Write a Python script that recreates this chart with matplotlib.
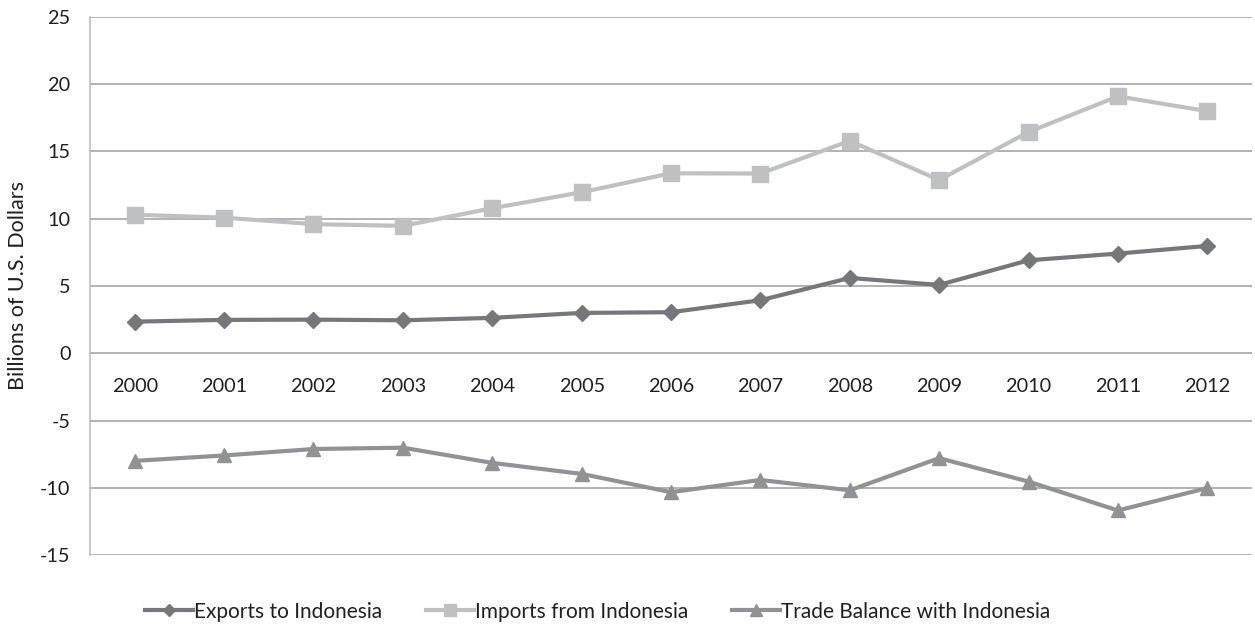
import matplotlib
matplotlib.use("Agg")
import matplotlib.pyplot as plt

years = ['2000', '2001', '2002', '2003', '2004', '2005', '2006',
         '2007', '2008', '2009', '2010', '2011', '2012']
exports = [2.35, 2.48, 2.5, 2.45, 2.63, 3.0, 3.05, 3.94, 5.6, 5.08, 6.91, 7.41, 7.98]
imports = [10.3, 10.08, 9.6, 9.47, 10.78, 11.97, 13.38, 13.36, 15.79, 12.88, 16.45, 19.1, 18.0]
balance = [-8.0, -7.6, -7.12, -7.02, -8.15, -8.97, -10.33, -9.42, -10.19, -7.8, -9.54, -11.69, -10.02]
y_ticks = [25, 20, 15, 10, 5, 0, -5, -10, -15]

plt.rcParams['font.family'] = ['Lato', 'DejaVu Sans']

fig = plt.figure(figsize=(12.55, 6.34), dpi=100)
ax = fig.add_axes([0.0717, 0.1246, 0.9259, 0.8486])

x = list(range(len(years)))
ax.plot(x, exports, color='#76777a', lw=3, marker='D', ms=8, label='Exports to Indonesia')
ax.plot(x, imports, color='#bfc0c2', lw=3, marker='s', ms=11, label='Imports from Indonesia')
ax.plot(x, balance, color='#919295', lw=3, marker='^', ms=10, label='Trade Balance with Indonesia')

ax.set_xlim(-0.5, len(years) - 0.5)
ax.set_ylim(-15, 25)
ax.set_yticks(y_ticks)
ax.set_yticklabels([str(t) for t in y_ticks])
ax.set_xticks(x)
ax.set_xticklabels(years)

ax.grid(axis='y', color='#a6a6a6', lw=1.2)
ax.set_axisbelow(True)
for side in ['top', 'right']:
    ax.spines[side].set_visible(False)
ax.spines['left'].set_color('#bdbdbd')
ax.spines['left'].set_linewidth(1.2)
ax.spines['bottom'].set_position(('data', 0))
ax.spines['bottom'].set_visible(False)

ax.tick_params(axis='x', length=0, pad=18, labelsize=14.3, colors='#231f20')
ax.tick_params(axis='y', length=0, pad=14, labelsize=14.3, colors='#231f20')
ax.set_ylabel('Billions of U.S. Dollars', fontsize=15.5, color='#231f20', labelpad=9)

leg = ax.legend(loc='upper center', bbox_to_anchor=(0.437, -0.052), ncol=3, frameon=False,
                fontsize=15, handlelength=2.3, columnspacing=2.1, handletextpad=0.05,
                labelcolor='#231f20', markerscale=0.8)

fig.savefig('out.png', dpi=100)
